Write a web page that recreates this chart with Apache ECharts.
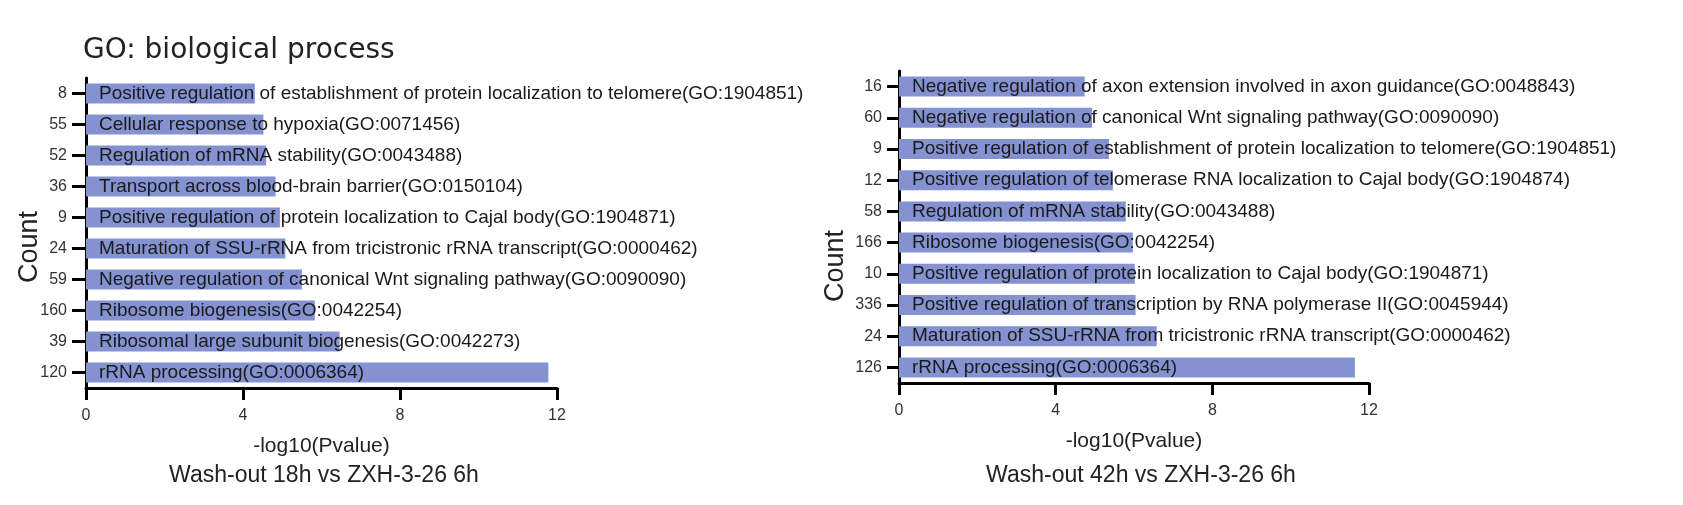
<!DOCTYPE html>
<html>
<head>
<meta charset="utf-8">
<script src="https://cdn.jsdelivr.net/npm/echarts@6/dist/echarts.min.js"></script>
<style>
  html, body { margin: 0; padding: 0; background: #fff; }
  #chart { width: 1683px; height: 505px; }
</style>
</head>
<body>
<div id="chart"></div>
<script>
/* 左图: Wash-out 18h */
let leftTerms = [
    'Positive regulation of establishment of protein localization to telomere(GO:1904851)',
    'Cellular response to hypoxia(GO:0071456)',
    'Regulation of mRNA stability(GO:0043488)',
    'Transport across blood-brain barrier(GO:0150104)',
    'Positive regulation of protein localization to Cajal body(GO:1904871)',
    'Maturation of SSU-rRNA from tricistronic rRNA transcript(GO:0000462)',
    'Negative regulation of canonical Wnt signaling pathway(GO:0090090)',
    'Ribosome biogenesis(GO:0042254)',
    'Ribosomal large subunit biogenesis(GO:0042273)',
    'rRNA processing(GO:0006364)'
];
let leftCounts = [8, 55, 52, 36, 9, 24, 59, 160, 39, 120];
let leftValues = [4.30, 4.52, 4.59, 4.83, 4.94, 5.08, 5.50, 5.83, 6.46, 11.78];

/* 右图: Wash-out 42h */
let rightTerms = [
    'Negative regulation of axon extension involved in axon guidance(GO:0048843)',
    'Negative regulation of canonical Wnt signaling pathway(GO:0090090)',
    'Positive regulation of establishment of protein localization to telomere(GO:1904851)',
    'Positive regulation of telomerase RNA localization to Cajal body(GO:1904874)',
    'Regulation of mRNA stability(GO:0043488)',
    'Ribosome biogenesis(GO:0042254)',
    'Positive regulation of protein localization to Cajal body(GO:1904871)',
    'Positive regulation of transcription by RNA polymerase II(GO:0045944)',
    'Maturation of SSU-rRNA from tricistronic rRNA transcript(GO:0000462)',
    'rRNA processing(GO:0006364)'
];
let rightCounts = [16, 60, 9, 12, 58, 166, 10, 336, 24, 126];
let rightValues = [4.74, 4.93, 5.36, 5.46, 5.79, 5.97, 6.02, 6.04, 6.58, 11.64];

let xTicks = [0, 4, 8, 12];

const labelFont = 'Liberation Sans, Arial, sans-serif';
const titleFont = 'DejaVu Sans, sans-serif';
const barColor = '#8492d1';

function makeX(idx) {
    return {
        type: 'value',
        gridIndex: idx,
        min: xTicks[0],
        max: xTicks[xTicks.length - 1],
        interval: xTicks[1] - xTicks[0],
        name: '-log10(Pvalue)',
        nameLocation: 'middle',
        nameGap: 48,
        nameTextStyle: { fontFamily: labelFont, fontSize: 21, color: '#222' },
        axisLine: { show: true, lineStyle: { color: '#000', width: 3 } },
        axisTick: { show: true, length: 12, lineStyle: { color: '#000', width: 3 } },
        axisLabel: { fontFamily: labelFont, fontSize: 16, color: '#333', margin: 20 },
        splitLine: { show: false }
    };
}

function makeY(idx, terms, counts, tickLen) {
    return {
        type: 'category',
        gridIndex: idx,
        inverse: true,
        data: terms,
        axisLine: { show: true, lineStyle: { color: '#000', width: 3 } },
        axisTick: { show: true, alignWithLabel: true, length: tickLen, lineStyle: { color: '#000', width: 3 } },
        axisLabel: {
            fontFamily: labelFont, fontSize: 16, color: '#333', margin: tickLen + 5,
            formatter: function (v, i) { return String(counts[i]); }
        }
    };
}

function makeSeries(idx, values) {
    return {
        type: 'bar',
        xAxisIndex: idx,
        yAxisIndex: idx,
        data: values,
        barWidth: 20,
        itemStyle: { color: barColor },
        label: {
            show: true,
            position: 'insideLeft',
            distance: 13,
            fontFamily: labelFont,
            fontSize: 19,
            color: '#1a1a1a',
            formatter: function (p) { return p.name; }
        },
        silent: true
    };
}

function countText(x, y) {
    return {
        type: 'text',
        x: x, y: y,
        rotation: Math.PI / 2,
        style: {
            text: 'Count',
            fontFamily: labelFont,
            fontSize: 27,
            fill: '#222',
            align: 'center',
            verticalAlign: 'middle'
        }
    };
}

var chart = echarts.init(document.getElementById('chart'), null, { renderer: 'canvas' });
var option = {
    backgroundColor: '#fff',
    animation: false,
    title: [
        {
            text: 'GO: biological process',
            left: 78, top: 32,
            textStyle: { fontFamily: titleFont, fontSize: 28, fontWeight: 'normal', color: '#222' }
        },
        {
            text: 'Wash-out 18h vs ZXH-3-26 6h',
            left: 319, top: 459, textAlign: 'center',
            textStyle: { fontFamily: labelFont, fontSize: 23, fontWeight: 'normal', color: '#222' }
        },
        {
            text: 'Wash-out 42h vs ZXH-3-26 6h',
            left: 1136, top: 459, textAlign: 'center',
            textStyle: { fontFamily: labelFont, fontSize: 23, fontWeight: 'normal', color: '#222' }
        }
    ],
    graphic: [countText(30, 247), countText(836, 266)],
    grid: [
        { left: 86, width: 471, top: 78, height: 310 },
        { left: 899, width: 470, top: 71, height: 312 }
    ],
    xAxis: [makeX(0), makeX(1)],
    yAxis: [
        makeY(0, leftTerms, leftCounts, 14),
        makeY(1, rightTerms, rightCounts, 12)
    ],
    series: [makeSeries(0, leftValues), makeSeries(1, rightValues)]
};
chart.setOption(option);

window.addEventListener('resize', function () {
    chart.resize();
});
</script>
</body>
</html>
